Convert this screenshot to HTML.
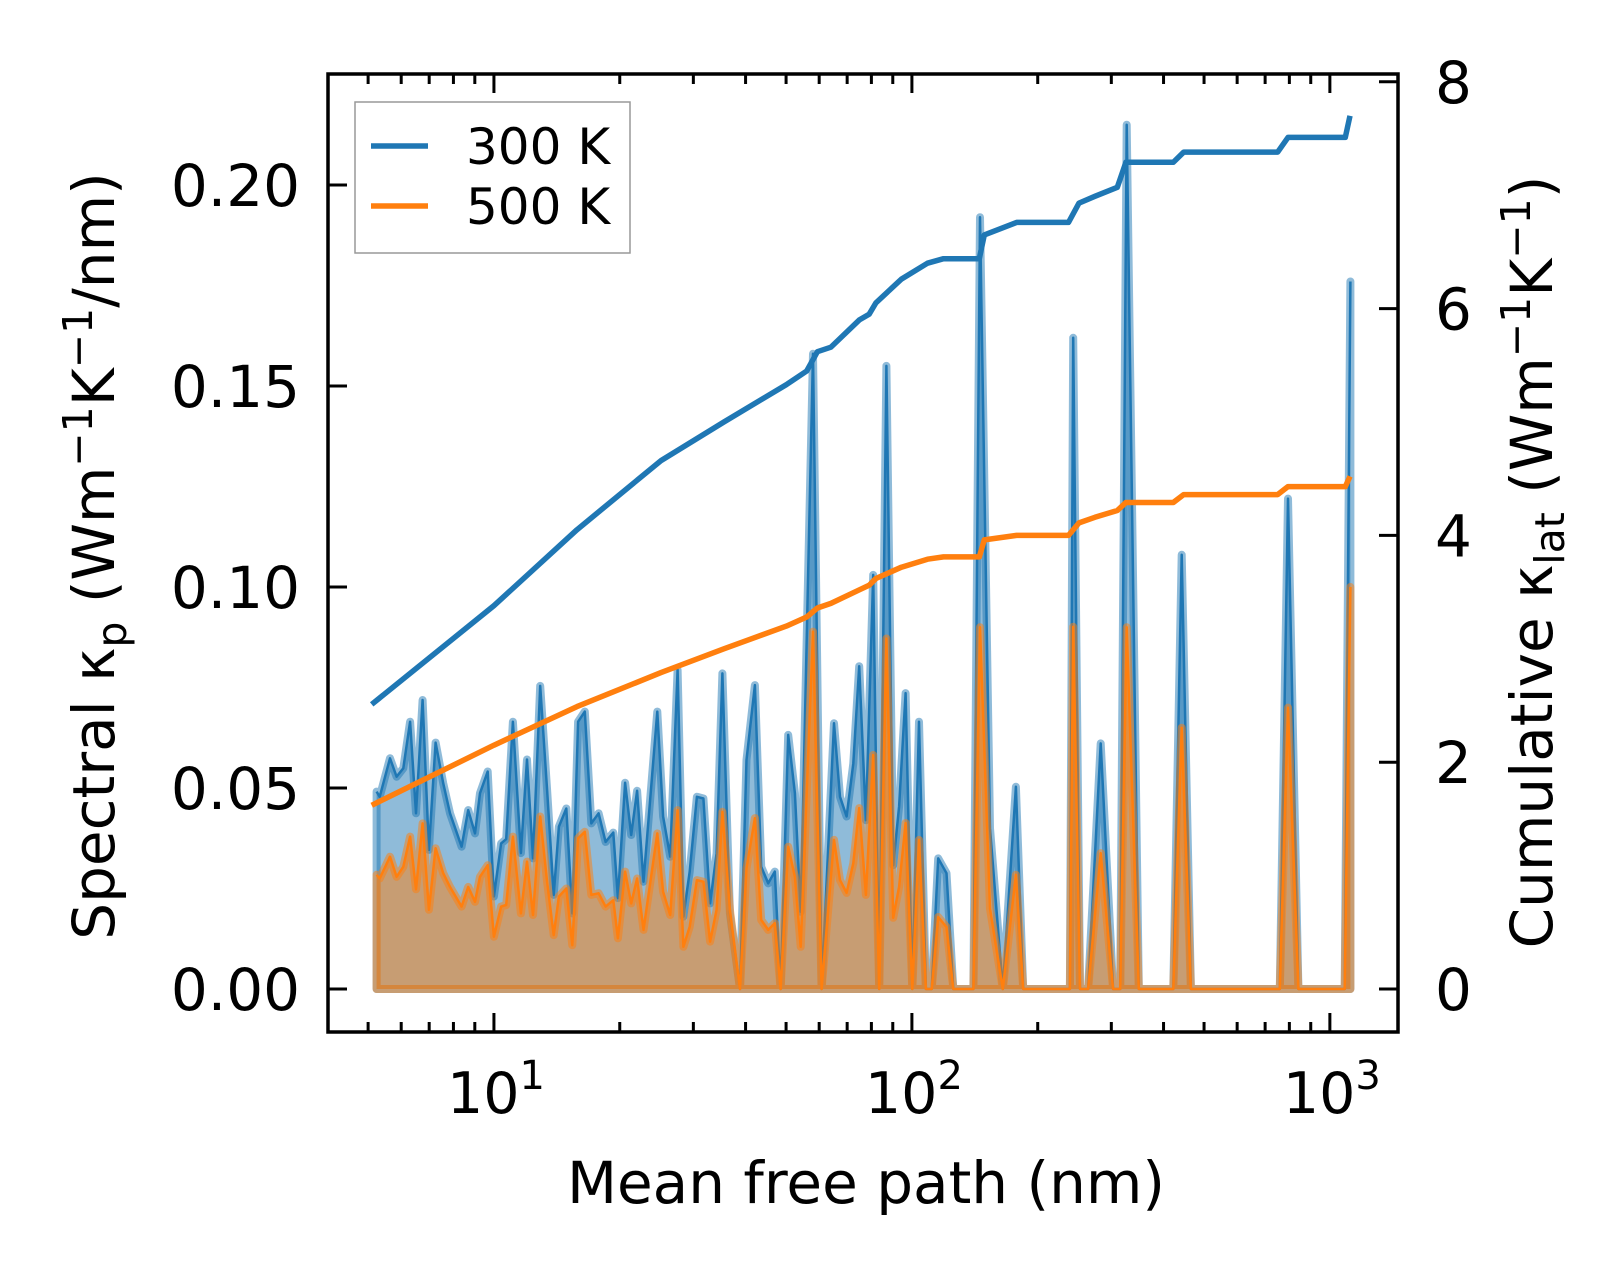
<!DOCTYPE html>
<html><head><meta charset="utf-8"><style>
html,body{margin:0;padding:0;background:#fff}
svg text{font-family:"DejaVu Sans","Liberation Sans",sans-serif;fill:#000}
</style></head><body>
<svg id="chart" width="1623" height="1270" viewBox="0 0 1623 1270" xmlns="http://www.w3.org/2000/svg">
<g id="marks"></g>
<g id="axes"></g>
</svg>
<script>
const mfp = [5.24,5.33,5.64,5.85,6.07,6.30,6.51,6.75,6.99,7.25,7.56,7.85,8.37,8.68,9.01,9.26,9.66,10.0,10.4,10.7,11.1,11.6,12.0,12.4,12.9,13.4,13.9,14.3,14.9,15.4,15.9,16.5,17.1,17.8,18.5,19.3,19.8,20.6,21.3,22.0,22.8,24.6,25.4,26.4,27.5,28.4,29.4,30.6,31.7,32.9,34.1,35.2,36.7,38.8,40.2,42.1,43.6,45.3,47.0,48.5,50.6,52.5,54.2,58.0,60.8,65.1,67.3,69.8,72.4,74.8,77.6,80.8,83.5,86.9,90.2,93.2,96.6,100.2,104,108,111.5,115.6,121,125.6,140.3,145.5,153.8,165,177.3,184.6,238.8,243.2,252.4,264,283,303,315,326.6,349,422,442,465,759,794,841,1085,1120];
const k300 = [0.0491,0.0478,0.0574,0.0528,0.0549,0.0665,0.0437,0.0719,0.0346,0.0613,0.0512,0.0437,0.0354,0.0445,0.0387,0.0487,0.0541,0.0230,0.0362,0.0373,0.0665,0.0338,0.0571,0.0325,0.0754,0.0495,0.0234,0.0404,0.0449,0.0188,0.0665,0.0690,0.0412,0.0437,0.0366,0.0389,0.0226,0.0513,0.0383,0.0493,0.0267,0.0690,0.0429,0.0329,0.0794,0.0180,0.0292,0.0478,0.0474,0.0213,0.0338,0.0785,0.0188,0,0.0570,0.0756,0.0304,0.0263,0.0292,0,0.0632,0.0487,0.0192,0.158,0,0.0661,0.0478,0.0429,0.0561,0.0803,0.0420,0.103,0,0.155,0.0308,0.0454,0.0736,0,0.0665,0,0,0.0325,0.0288,0,0,0.192,0.040,0,0.0503,0,0,0.162,0,0,0.0611,0,0,0.215,0,0,0.108,0,0,0.122,0,0,0.176];
const k500 = [0.0284,0.0275,0.0329,0.0279,0.0304,0.0379,0.0248,0.0412,0.0197,0.0350,0.0288,0.0254,0.0205,0.0254,0.0217,0.0279,0.0308,0.0130,0.0205,0.0209,0.0379,0.0188,0.0317,0.0184,0.0429,0.0267,0.0134,0.0230,0.0250,0.0109,0.0375,0.0391,0.0234,0.0238,0.0205,0.0221,0.0126,0.0292,0.0213,0.0275,0.0147,0.0387,0.0242,0.0184,0.0445,0.0105,0.0155,0.0271,0.0267,0.0118,0.0197,0.0441,0.0197,0,0.030,0.0425,0.0172,0.0147,0.0164,0,0.0354,0.0279,0.0105,0.0889,0,0.0371,0.0271,0.0239,0.0313,0.0450,0.0234,0.0582,0,0.0872,0.0177,0.0254,0.0413,0,0.0371,0,0,0.0179,0.0154,0,0,0.090,0.020,0,0.0284,0,0,0.0901,0,0,0.0338,0,0,0.090,0,0,0.065,0,0,0.070,0,0,0.100];
const cumMfp = [5.1,10,15.8,25.1,35.5,50.1,56,59.4,64,74.9,79,82,94.4,109,119,145,149,178,237,251,274,310,325,422,447,750,794,1089,1117];
const cum300 = [2.51,3.38,4.05,4.66,5.0,5.33,5.45,5.62,5.66,5.9,5.95,6.05,6.26,6.4,6.44,6.44,6.65,6.76,6.76,6.93,6.99,7.07,7.29,7.29,7.38,7.38,7.51,7.51,7.7];
const cum500 = [1.62,2.15,2.49,2.79,3.0,3.2,3.28,3.36,3.40,3.52,3.56,3.62,3.72,3.79,3.81,3.81,3.96,4.0,4.0,4.11,4.16,4.22,4.29,4.29,4.36,4.36,4.43,4.43,4.52];
const yTicksL = [0,0.05,0.10,0.15,0.20];
const yTickLabelsL = ["0.00","0.05","0.10","0.15","0.20"];
const yTicksR = [0,2,4,6,8];
const xDecades = [1,2,3];

const L=328,R=1398,T=74,B=1032;
const X0=0.603,X1=3.163;
function xs(v){return L+(Math.log10(v)-X0)/(X1-X0)*(R-L);}
function yl(v){return 989-v*4020;}
function yr(v){return 989-v*113.4;}
const NS='http://www.w3.org/2000/svg';
function mk(tag,attrs,parent){const e=document.createElementNS(NS,tag);for(const k in attrs)e.setAttribute(k,attrs[k]);parent.appendChild(e);return e;}
const marks=document.getElementById('marks'), axes=document.getElementById('axes');

function area(vals,color,name){
  let pts=vals.map((v,i)=>xs(mfp[i]).toFixed(1)+','+yl(v).toFixed(1));
  const poly=[xs(mfp[0]).toFixed(1)+','+yl(0)].concat(pts,[xs(mfp[mfp.length-1]).toFixed(1)+','+yl(0)]);
  const p=mk('polygon',{points:poly.join(' '),fill:color,'fill-opacity':0.5,stroke:color,'stroke-opacity':0.5,'stroke-width':8,'stroke-linejoin':'round'},marks);
  
  
  const l=mk('polyline',{points:pts.join(' '),fill:'none',stroke:color,'stroke-width':2.5,'stroke-linejoin':'round'},marks);
  
  
}
area(k300,'#1f77b4','spectral-300k');
area(k500,'#ff7f0e','spectral-500k');
function cum(vals,color,name){
  const pts=vals.map((v,i)=>xs(cumMfp[i]).toFixed(1)+','+yr(v).toFixed(1));
  const l=mk('polyline',{points:pts.join(' '),fill:'none',stroke:color,'stroke-width':5.5,'stroke-linejoin':'round'},marks);
  
  
}
cum(cum300,'#1f77b4','cumulative-300k');
cum(cum500,'#ff7f0e','cumulative-500k');

const fr=mk('rect',{x:L,y:T,width:R-L,height:B-T,fill:'none',stroke:'#000','stroke-width':3.5},axes);


for(let d=0;d<=3;d++){
  for(let m=1;m<10;m++){
    const v=m*Math.pow(10,d), x=xs(v);
    if(x<L+2||x>R-2) continue;
    const len=m===1?19:10;
    mk('line',{x1:x,y1:B,x2:x,y2:B-len,stroke:'#000','stroke-width':3},axes);
    mk('line',{x1:x,y1:T,x2:x,y2:T+len,stroke:'#000','stroke-width':3},axes);
  }
}
xDecades.forEach(d=>{
  const x=xs(Math.pow(10,d));
  const t=mk('text',{x:x+2,y:1113,'font-size':57,'text-anchor':'middle'},axes);
  
  
  t.textContent='10';
  const s=mk('tspan',{dy:-24,'font-size':40},t);s.textContent=String(d);
});
yTicksL.forEach((v,i)=>{
  const y=yl(v);
  mk('line',{x1:L,y1:y,x2:L+19,y2:y,stroke:'#000','stroke-width':3},axes);
  const t=mk('text',{x:300,y:y+21,'font-size':58,'text-anchor':'end'},axes);
  
  
  t.textContent=yTickLabelsL[i];
});
yTicksR.forEach(v=>{
  const y=yr(v);
  mk('line',{x1:R,y1:y,x2:R-19,y2:y,stroke:'#000','stroke-width':3},axes);
  const t=mk('text',{x:1435,y:y+21,'font-size':58,'text-anchor':'start'},axes);
  
  
  t.textContent=String(v);
});
</script>
<svg style="position:absolute;left:0;top:0" width="1623" height="1270">
<text x="866" y="1203" font-size="58" text-anchor="middle">Mean free path (nm)</text>
<text transform="translate(114,556) rotate(-90)" font-size="58" text-anchor="middle">Spectral κ<tspan font-size="41" dy="12">p</tspan><tspan dy="-12"> (Wm</tspan><tspan font-size="41" dy="-22">−1</tspan><tspan dy="22">K</tspan><tspan font-size="41" dy="-22">−1</tspan><tspan dy="22">/nm)</tspan></text>
<text transform="translate(1552,562) rotate(-90)" font-size="58" text-anchor="middle">Cumulative κ<tspan font-size="41" dy="12">lat</tspan><tspan dy="-12"> (Wm</tspan><tspan font-size="41" dy="-22">−1</tspan><tspan dy="22">K</tspan><tspan font-size="41" dy="-22">−1</tspan><tspan dy="22">)</tspan></text>
<g>
<rect x="355" y="102" width="275" height="151" fill="#fff" fill-opacity="0.8" stroke="#999" stroke-width="1.5"/>
<line x1="371" y1="146" x2="428" y2="146" stroke="#1f77b4" stroke-width="5.5"/>
<text x="466" y="164" font-size="50">300 K</text>
<line x1="371" y1="206" x2="428" y2="206" stroke="#ff7f0e" stroke-width="5.5"/>
<text x="466" y="224" font-size="50">500 K</text>
</g>
</svg>
</body></html>
